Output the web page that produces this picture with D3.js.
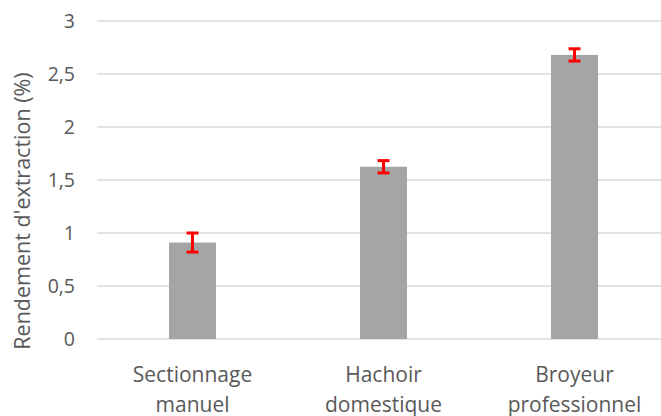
<!DOCTYPE html>
<html><head><meta charset="utf-8">
<script src="https://cdn.jsdelivr.net/npm/d3@7"></script>
<style>body{margin:0;background:#fff}svg{display:block}text{font-family:"Open Sans",sans-serif;fill:#595959}</style>
</head><body><svg id="c" width="661" height="416"></svg>
<script>
const categories = [["Sectionnage","manuel"],["Hachoir","domestique"],["Broyeur","professionnel"]];
const values = [0.91, 1.625, 2.68];
const errors = [0.09, 0.058, 0.058];
const yTicks = [0, 0.5, 1, 1.5, 2, 2.5, 3];
const yTitle = "Rendement d'extraction (%)";

const svg = d3.select("#c");
const x = d3.scaleBand().domain(d3.range(categories.length)).range([97, 670]).paddingInner(0.754).paddingOuter(0.377);
const y = d3.scaleLinear().domain([0, 3]).range([339, 21]);
const fmt = d => String(d).replace(".", ",");

svg.append("g").selectAll("line").data(yTicks).join("line")
  .attr("x1", 97).attr("x2", 661).attr("y1", d => y(d)).attr("y2", d => y(d))
  .attr("stroke", "#d9d9d9").attr("stroke-width", 1.3);

svg.append("g").selectAll("text").data(yTicks).join("text")
  .attr("x", 75).attr("y", d => y(d)).attr("dy", "0.35em").attr("text-anchor", "end")
  .attr("font-size", 19.5).text(fmt);

const cx = i => x(i) + x.bandwidth() / 2;
svg.append("g").selectAll("rect").data(values).join("rect")
  .attr("x", (d, i) => x(i)).attr("width", x.bandwidth())
  .attr("y", d => y(d)).attr("height", d => y(0) - y(d)).attr("fill", "#a5a5a5");

const eb = svg.append("g").attr("stroke", "#ff0000").attr("stroke-width", 3);
values.forEach((v, i) => {
  const t = y(v + errors[i]), b = y(v - errors[i]), c = cx(i);
  eb.append("line").attr("x1", c).attr("x2", c).attr("y1", t).attr("y2", b);
  eb.append("line").attr("x1", c - 6).attr("x2", c + 6).attr("y1", t).attr("y2", t);
  eb.append("line").attr("x1", c - 6).attr("x2", c + 6).attr("y1", b).attr("y2", b);
});

const lab = svg.append("g").selectAll("text").data(categories).join("text")
  .attr("text-anchor", "middle").attr("font-size", 21);
lab.each(function(d, i) {
  const t = d3.select(this);
  d.forEach((s, k) => t.append("tspan").attr("x", cx(i)).attr("y", 382 + k * 30).text(s));
});

svg.append("text").attr("transform", "translate(30,211) rotate(-90)")
  .attr("text-anchor", "middle").attr("font-size", 21.5).text(yTitle);
</script></body></html>
